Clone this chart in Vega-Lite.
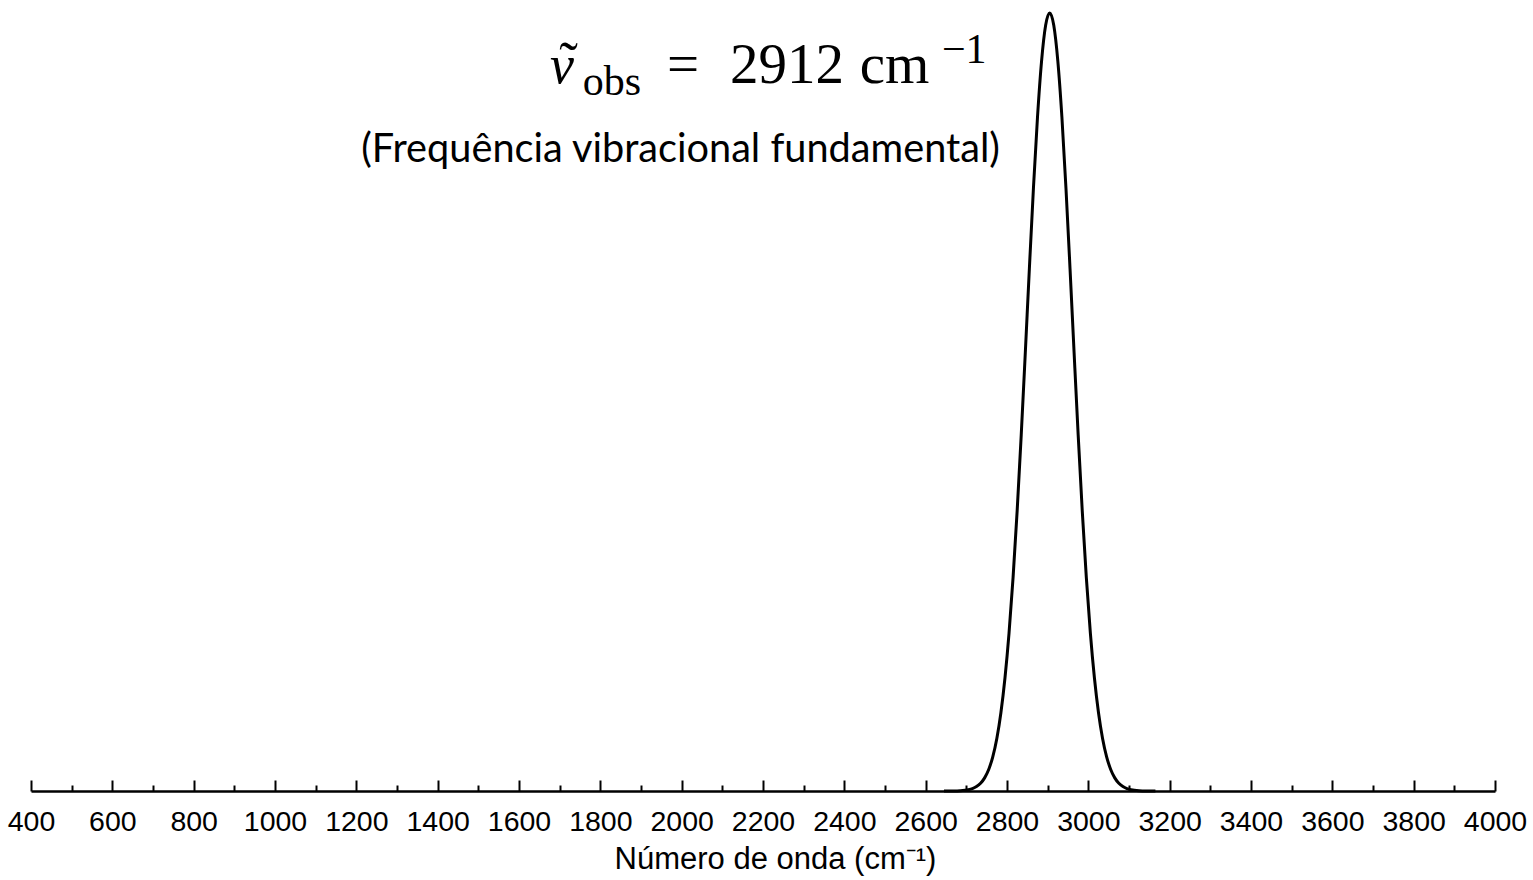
{
  "$schema": "https://vega.github.io/schema/vega-lite/v6.json",
  "width": 1464,
  "height": 778,
  "autosize": {"type": "none"},
  "padding": {"left": 31, "top": 13, "right": 38, "bottom": 89},
  "background": "white",
  "config": {"view": {"stroke": null}},
  "layer": [
    {
      "data": {"values": [
        {"wn": 2645, "abs": 0},
        {"wn": 2665, "abs": 0.0001},
        {"wn": 2685, "abs": 0.00045},
        {"wn": 2705, "abs": 0.0017},
        {"wn": 2715, "abs": 0.00317},
        {"wn": 2725, "abs": 0.00571},
        {"wn": 2735, "abs": 0.00998},
        {"wn": 2745, "abs": 0.01688},
        {"wn": 2755, "abs": 0.02767},
        {"wn": 2765, "abs": 0.04394},
        {"wn": 2775, "abs": 0.06758},
        {"wn": 2785, "abs": 0.10066},
        {"wn": 2795, "abs": 0.14527},
        {"wn": 2805, "abs": 0.20302},
        {"wn": 2815, "abs": 0.27489},
        {"wn": 2825, "abs": 0.36044},
        {"wn": 2835, "abs": 0.45783},
        {"wn": 2845, "abs": 0.56329},
        {"wn": 2855, "abs": 0.67125},
        {"wn": 2865, "abs": 0.77478},
        {"wn": 2875, "abs": 0.86633},
        {"wn": 2885, "abs": 0.93821},
        {"wn": 2895, "abs": 0.98419},
        {"wn": 2905, "abs": 1},
        {"wn": 2915, "abs": 0.98419},
        {"wn": 2925, "abs": 0.93821},
        {"wn": 2935, "abs": 0.86633},
        {"wn": 2945, "abs": 0.77478},
        {"wn": 2955, "abs": 0.67125},
        {"wn": 2965, "abs": 0.56329},
        {"wn": 2975, "abs": 0.45783},
        {"wn": 2985, "abs": 0.36044},
        {"wn": 2995, "abs": 0.27489},
        {"wn": 3005, "abs": 0.20302},
        {"wn": 3015, "abs": 0.14527},
        {"wn": 3025, "abs": 0.10066},
        {"wn": 3035, "abs": 0.06758},
        {"wn": 3045, "abs": 0.04394},
        {"wn": 3055, "abs": 0.02767},
        {"wn": 3065, "abs": 0.01688},
        {"wn": 3075, "abs": 0.00998},
        {"wn": 3085, "abs": 0.00571},
        {"wn": 3095, "abs": 0.00317},
        {"wn": 3105, "abs": 0.0017},
        {"wn": 3125, "abs": 0.00045},
        {"wn": 3145, "abs": 0.0001},
        {"wn": 3165, "abs": 0}
      ]},
      "mark": {"type": "line", "color": "black", "strokeWidth": 3, "interpolate": "monotone"},
      "encoding": {
        "x": {
          "field": "wn", "type": "quantitative",
          "scale": {"domain": [400, 4000], "nice": false, "zero": false},
          "axis": {
            "title": "Número de onda (cm⁻¹)",
            "titleX": 744,
            "titleAlign": "center",
            "values": [400, 500, 600, 700, 800, 900, 1000, 1100, 1200, 1300, 1400, 1500, 1600, 1700, 1800, 1900, 2000, 2100, 2200, 2300, 2400, 2500, 2600, 2700, 2800, 2900, 3000, 3100, 3200, 3300, 3400, 3500, 3600, 3700, 3800, 3900, 4000],
            "format": "d",
            "labelExpr": "datum.value % 200 === 0 ? datum.label : ''",
            "tickSize": {"condition": {"test": "datum.value % 200 === 0", "value": -11}, "value": -6},
            "tickColor": "black",
            "tickWidth": 2,
            "domainColor": "black",
            "domainWidth": 2.5,
            "grid": false,
            "labelFont": "Liberation Sans",
            "labelFontSize": 28.5,
            "labelColor": "black",
            "labelPadding": 27,
            "labelOverlap": false,
            "labelFlush": false,
            "titleFont": "Liberation Sans",
            "titleFontSize": 31,
            "titleFontWeight": "normal",
            "titleColor": "black",
            "titlePadding": 4
          }
        },
        "y": {"field": "abs", "type": "quantitative", "scale": {"domain": [0, 1], "nice": false}, "axis": null}
      }
    },
    {
      "data": {"values": [{"wn": 1676, "abs": 0.910, "t": "ν"}]},
      "mark": {"type": "text", "font": "Liberation Serif", "fontStyle": "italic", "fontSize": 54, "align": "left", "baseline": "alphabetic", "color": "black"},
      "encoding": {
        "x": {"field": "wn", "type": "quantitative"},
        "y": {"field": "abs", "type": "quantitative"},
        "text": {"field": "t"}
      }
    },
    {
      "data": {"values": [{"wn": 1722, "abs": 0.912, "t": "˜"}]},
      "mark": {"type": "text", "font": "Liberation Serif", "fontSize": 56, "align": "center", "baseline": "alphabetic", "color": "black"},
      "encoding": {
        "x": {"field": "wn", "type": "quantitative"},
        "y": {"field": "abs", "type": "quantitative"},
        "text": {"field": "t"}
      }
    },
    {
      "data": {"values": [
        {"wn": 1964, "abs": 0.910, "t": "="},
        {"wn": 2119, "abs": 0.910, "t": "2912"},
        {"wn": 2438, "abs": 0.910, "t": "cm"}
      ]},
      "mark": {"type": "text", "font": "Liberation Serif", "fontSize": 57, "align": "left", "baseline": "alphabetic", "color": "black"},
      "encoding": {
        "x": {"field": "wn", "type": "quantitative"},
        "y": {"field": "abs", "type": "quantitative"},
        "text": {"field": "t"}
      }
    },
    {
      "data": {"values": [
        {"wn": 1757, "abs": 0.8946, "t": "obs"},
        {"wn": 2640, "abs": 0.9357, "t": "−1"}
      ]},
      "mark": {"type": "text", "font": "Liberation Serif", "fontSize": 42, "align": "left", "baseline": "alphabetic", "color": "black"},
      "encoding": {
        "x": {"field": "wn", "type": "quantitative"},
        "y": {"field": "abs", "type": "quantitative"},
        "text": {"field": "t"}
      }
    },
    {
      "data": {"values": [{"wn": 2782.6, "abs": 0.8085, "t": "(Frequência vibracional fundamental)"}]},
      "mark": {"type": "text", "font": "Lato", "fontSize": 39.7, "align": "right", "baseline": "alphabetic", "color": "black"},
      "encoding": {
        "x": {"field": "wn", "type": "quantitative"},
        "y": {"field": "abs", "type": "quantitative"},
        "text": {"field": "t"}
      }
    }
  ]
}
